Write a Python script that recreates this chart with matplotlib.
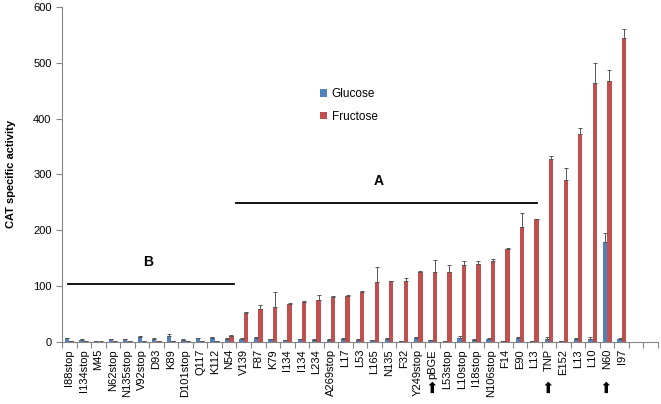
import numpy as np
import matplotlib
matplotlib.use('Agg')
import matplotlib.pyplot as plt
import matplotlib.transforms as mtransforms

plt.rcParams['font.family'] = ['Liberation Sans', 'DejaVu Sans']

# --- dados ---
rotulos = ['I88stop', 'I134stop', 'M45', 'N62stop', 'N135stop', 'V92stop', 'D93', 'K89',
           'D101stop', 'Q117', 'K112', 'N54', 'V139', 'F87', 'K79', 'I134', 'I134', 'L234',
           'A269stop', 'L17', 'L53', 'L165', 'N135', 'F32', 'Y249stop', 'pBGE',
           'L53stop', 'L10stop', 'I18stop', 'N106stop', 'F14', 'E90', 'L13', 'TNP',
           'E152', 'L13', 'L10', 'N60', 'I97', '', '']

# construções marcadas com seta
setas = ['pBGE', 'TNP', 'N60']

glucose = [7, 4, 1.5, 4.5, 5, 9, 6, 10, 4, 7, 8, 6,
           6, 8, 5, 3, 5, 4, 4, 6, 4, 3, 5, 1, 8, 3, 2,
           8, 4, 5, 2, 8, 1, 5, 2, 6, 5, 179, 5]
glucose_err = [1, 1, 0.5, 1, 1, 1, 1, 4, 1, 1, 1, 1,
               2, 1, 1, 0.5, 1, 0.5, 0.5, 1, 0.5, 0.5, 2, 0.5, 1, 0.5, 0.5,
               2, 1, 2, 0.5, 1, 0.5, 4, 0.5, 1, 4, 16, 2]

frutose = [1, 1, 0.5, 1, 1, 2, 1.5, 1.5, 1, 2, 1.5, 11,
           52, 59, 63, 68, 72, 76, 81, 82, 90, 107, 109, 110, 125, 125, 126,
           137, 140, 145, 167, 206, 220, 328, 290, 372, 463, 467, 545]
frutose_err = [0.5, 0.5, 0.5, 0.5, 0.5, 0.5, 0.5, 0.5, 0.5, 0.5, 0.5, 1,
               1, 8, 26, 1, 1, 9, 2, 3, 2, 27, 1, 4, 2, 22, 11,
               8, 5, 4, 2, 25, 1, 6, 21, 12, 37, 20, 16]

azul = '#4F81BD'
vermelho = '#C0504D'
cinza = '#868686'

fig = plt.figure(figsize=(6.61, 4.04), dpi=100)
ax = fig.add_axes([0.0938, 0.1535, 0.9017, 0.8292])

n = len(glucose)
x = np.arange(n)
larg = 0.3

ax.bar(x - larg/2, glucose, larg, color=azul, label='Glucose',
       yerr=[np.zeros(n), glucose_err], error_kw=dict(ecolor='#555555', elinewidth=0.7, capsize=1.2, capthick=0.7))
ax.bar(x + larg/2, frutose, larg, color=vermelho, label='Fructose',
       yerr=[np.zeros(n), frutose_err], error_kw=dict(ecolor='#555555', elinewidth=0.7, capsize=1.2, capthick=0.7))

# linhas dos grupos A e B
ax.plot([-0.1, 11.3], [104, 104], color='black', lw=1.3)
ax.plot([11.5, 32.2], [249, 249], color='black', lw=1.3)
ax.text(5.4, 144, 'B', fontsize=10, fontweight='bold', ha='center', va='center')
ax.text(21.3, 289, 'A', fontsize=10, fontweight='bold', ha='center', va='center')

ax.set_xlim(-0.5, len(rotulos) - 0.5)
ax.set_ylim(0, 600)
ax.set_xticks(np.arange(len(rotulos)))
ax.set_xticklabels(rotulos, rotation=90, fontsize=8)
ax.set_xticks(np.arange(-0.5, len(rotulos), 1), minor=True)
ax.tick_params(axis='x', which='major', length=0, pad=5)
ax.tick_params(axis='x', which='minor', length=4, color=cinza, width=0.8)
ax.set_yticks(np.arange(0, 601, 100))
ax.tick_params(axis='y', length=4, color=cinza, width=0.8, labelsize=8)

# setas abaixo dos rótulos
trans = mtransforms.blended_transform_factory(ax.transData, ax.transAxes)
for nome in setas:
    i = rotulos.index(nome)
    ax.text(i, -0.132, '\u27a1', rotation=90, fontsize=11, ha='center', va='center',
            transform=trans, clip_on=False)

for lado in ['top', 'right']:
    ax.spines[lado].set_visible(False)
for lado in ['left', 'bottom']:
    ax.spines[lado].set_color(cinza)
    ax.spines[lado].set_linewidth(0.8)

fig.text(0.016, 0.57, 'CAT specific activity', rotation=90, fontsize=8,
         fontweight='bold', ha='center', va='center')

ax.legend(loc='upper left', bbox_to_anchor=(0.415, 0.79), frameon=False, fontsize=8.5,
          handlelength=0.6, handleheight=0.6, handletextpad=0.4, labelspacing=0.9)

fig.savefig('out.png', dpi=100)
